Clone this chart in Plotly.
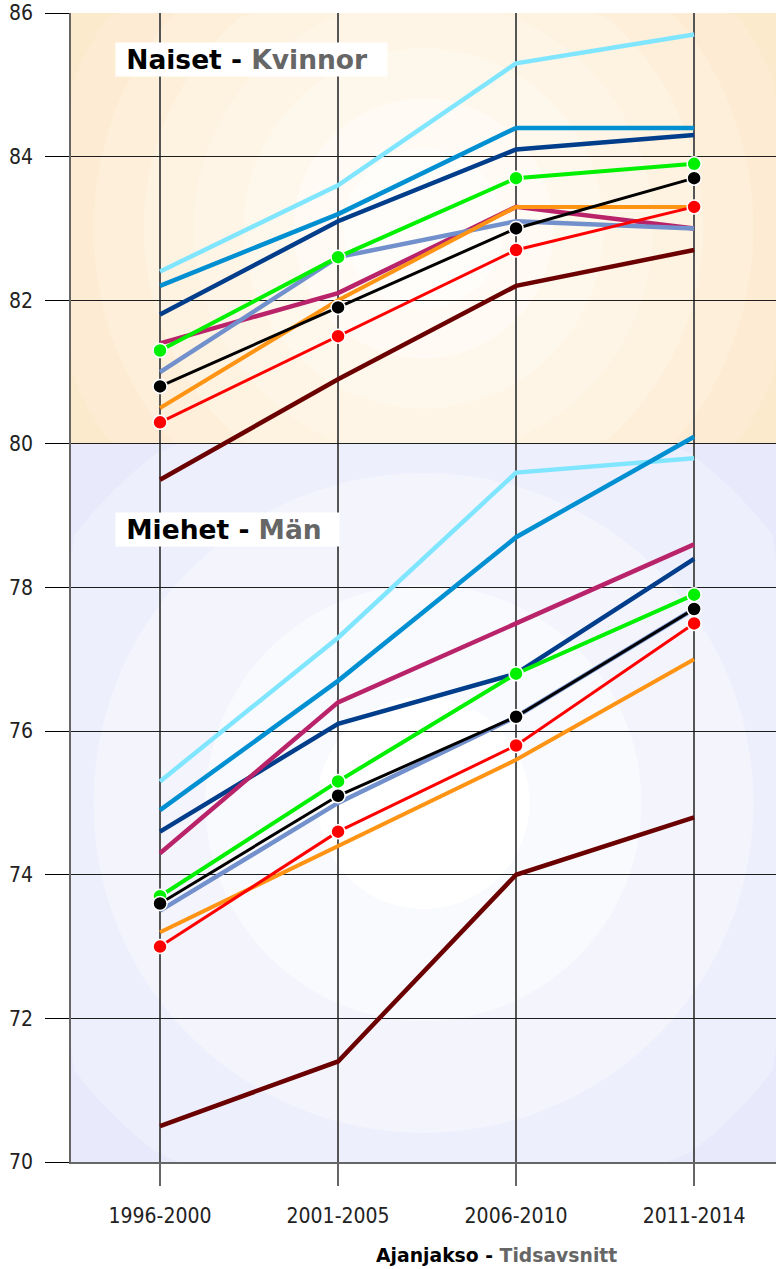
"""Life expectancy by period, women (top) and men (bottom)."""

import math

import plotly.graph_objects as go

PERIODS = ["1996-2000", "2001-2005", "2006-2010", "2011-2014"]
Y_TICKS = [70, 72, 74, 76, 78, 80, 82, 84, 86]

# women (Naiset - Kvinnor)
W_CYAN = [82.4, 83.6, 85.3, 85.7]
W_BLUE = [82.2, 83.2, 84.4, 84.4]
W_NAVY = [81.8, 83.1, 84.1, 84.3]
W_MAGENTA = [81.4, 82.1, 83.3, 83.0]
W_STEEL = [81.0, 82.6, 83.1, 83.0]
W_ORANGE = [80.5, 82.0, 83.3, 83.3]
W_MAROON = [79.5, 80.9, 82.2, 82.7]
W_GREEN = [81.3, 82.6, 83.7, 83.9]
W_BLACK = [80.8, 81.9, 83.0, 83.7]
W_RED = [80.3, 81.5, 82.7, 83.3]

# men (Miehet - Män)
M_CYAN = [75.3, 77.3, 79.6, 79.8]
M_BLUE = [74.9, 76.7, 78.7, 80.1]
M_NAVY = [74.6, 76.1, 76.8, 78.4]
M_MAGENTA = [74.3, 76.4, 77.5, 78.6]
M_STEEL = [73.5, 75.0, 76.2, 77.7]
M_ORANGE = [73.2, 74.4, 75.6, 77.0]
M_MAROON = [70.5, 71.4, 74.0, 74.8]
M_GREEN = [73.7, 75.3, 76.8, 77.9]
M_BLACK = [73.6, 75.1, 76.2, 77.7]
M_RED = [73.0, 74.6, 75.8, 77.5]

TICK_FONT = "DejaVu Sans Condensed, DejaVu Sans, sans-serif"
LABEL_FONT = "DejaVu Sans, Verdana, sans-serif"

FIG_W, FIG_H = 776, 1269

# plot area in page pixels
PX_L, PX_R, PX_T, PX_B = 71, 776, 13, 1162

SERIES = [
    # name, women, men, color, width, markers
    ("Sarja 1", W_CYAN, M_CYAN, "#80E6FF", 4.5, False),
    ("Sarja 2", W_BLUE, M_BLUE, "#0090D2", 4.5, False),
    ("Sarja 3", W_NAVY, M_NAVY, "#003D8A", 4.5, False),
    ("Sarja 4", W_MAGENTA, M_MAGENTA, "#B8236A", 4.5, False),
    ("Sarja 5", W_STEEL, M_STEEL, "#7290CC", 4.5, False),
    ("Sarja 6", W_ORANGE, M_ORANGE, "#FF9414", 4, False),
    ("Sarja 7", W_MAROON, M_MAROON, "#6B0000", 4.5, False),
    ("Sarja 8", W_GREEN, M_GREEN, "#00F000", 4, True),
    ("Sarja 9", W_BLACK, M_BLACK, "#000000", 3, True),
    ("Sarja 10", W_RED, M_RED, "#FF0000", 3, True),
]


def _to_paper(px, py):
    return (px - PX_L) / (PX_R - PX_L), (PX_B - py) / (PX_B - PX_T)


def _ring_path(cx, cy, r, y0, y1, n=96):
    pts = []
    for k in range(n):
        a = 2 * math.pi * k / n
        px = min(max(cx + r * math.cos(a), PX_L), PX_R)
        py = min(max(cy + r * math.sin(a), y0), y1)
        pts.append(_to_paper(px, py))
    return "M" + "L".join(f"{x:.4f},{y:.4f}" for x, y in pts) + "Z"


def _mix(c1, c2, t):
    a = [int(c1[i:i + 2], 16) for i in (1, 3, 5)]
    b = [int(c2[i:i + 2], 16) for i in (1, 3, 5)]
    return "rgb({}, {}, {})".format(*[round(a[i] + (b[i] - a[i]) * t) for i in range(3)])


def _band_shapes(y0, y1, edge, center, radii):
    cx = (PX_L + PX_R) / 2
    cy = (y0 + y1) / 2
    shapes = [{
        "type": "path", "xref": "paper", "yref": "paper", "layer": "below",
        "path": _ring_path(cx, cy, 2000, y0, y1, n=8),
        "fillcolor": edge, "line": {"width": 0},
    }]
    for i, r in enumerate(radii):
        t = (i + 1) / len(radii)
        shapes.append({
            "type": "path", "xref": "paper", "yref": "paper", "layer": "below",
            "path": _ring_path(cx, cy, r, y0, y1),
            "fillcolor": _mix(edge, center, t), "line": {"width": 0},
        })
    return shapes


y80 = PX_T + (86 - 80) * (PX_B - PX_T) / 16
shapes = _band_shapes(PX_T, y80, "#FCE7C6", "#FFFDF9",
                      [430, 380, 330, 280, 230, 180, 130, 80])
shapes += _band_shapes(y80, PX_B, "#E8EAFB", "#FFFFFF", [440, 330, 218, 106])

fig = go.Figure()
x_idx = list(range(len(PERIODS)))

for name, women, men, color, width, markers in SERIES:
    for part, values in (("Naiset", women), ("Miehet", men)):
        fig.add_trace(go.Scatter(
            x=x_idx,
            y=values,
            mode="lines+markers" if markers else "lines",
            name=f"{name} ({part})",
            line={"color": color, "width": width},
            marker={"size": 14, "color": color, "line": {"color": "#FFFFFF", "width": 1.5}},
            customdata=PERIODS,
            hovertemplate="%{customdata}: %{y}<extra>" + f"{name} ({part})" + "</extra>",
            showlegend=False,
        ))

annotations = [
    {
        "text": "<b>&nbsp;Naiset - <span style='color:#666666'>Kvinnor</span></b>",
        "xref": "paper", "yref": "paper",
        "x": _to_paper(115, 0)[0], "y": _to_paper(0, 42)[1],
        "xanchor": "left", "yanchor": "top",
        "showarrow": False, "align": "left",
        "width": 269, "height": 31, "borderpad": 1,
        "bgcolor": "#FFFFFF",
        "font": {"family": LABEL_FONT, "size": 26.5, "color": "#000000"},
    },
    {
        "text": "<b>&nbsp;Miehet - <span style='color:#666666'>Män</span></b>",
        "xref": "paper", "yref": "paper",
        "x": _to_paper(115, 0)[0], "y": _to_paper(0, 512)[1],
        "xanchor": "left", "yanchor": "top",
        "showarrow": False, "align": "left",
        "width": 221, "height": 31, "borderpad": 1,
        "bgcolor": "#FFFFFF",
        "font": {"family": LABEL_FONT, "size": 26.5, "color": "#000000"},
    },
    {
        "text": "<b>Ajanjakso - <span style='color:#666666'>Tidsavsnitt</span></b>",
        "xref": "paper", "yref": "paper",
        "x": _to_paper(496, 0)[0], "y": _to_paper(0, 1255)[1],
        "xanchor": "center", "yanchor": "middle",
        "showarrow": False,
        "font": {"family": LABEL_FONT, "size": 18.8, "color": "#000000"},
    },
]

fig.update_layout(
    width=FIG_W,
    height=FIG_H,
    margin={
        "l": PX_L,
        "r": FIG_W - PX_R,
        "t": PX_T,
        "b": FIG_H - PX_B,
        "pad": 0,
    },
    paper_bgcolor="#FFFFFF",
    plot_bgcolor="#FFFFFF",
    font={"family": TICK_FONT, "color": "#222222"},
    shapes=shapes,
    annotations=annotations,
    showlegend=False,
)

fig.update_xaxes(
    range=[-0.5, 3.46],
    tickvals=x_idx,
    ticktext=PERIODS,
    tickfont={"size": 21, "color": "#222222"},
    ticks="outside",
    ticklen=22,
    tickcolor="#666666",
    tickwidth=1.5,
    ticklabelstandoff=12,
    showgrid=True,
    gridcolor="#555555",
    gridwidth=1.5,
    showline=True,
    linecolor="#666666",
    linewidth=1.5,
    zeroline=False,
    fixedrange=True,
)

fig.update_yaxes(
    range=[70, 86],
    tickvals=Y_TICKS,
    ticktext=[str(v) for v in Y_TICKS],
    tickfont={"size": 21, "color": "#222222"},
    ticks="outside",
    ticklen=24,
    tickcolor="#000000",
    tickwidth=1.2,
    ticklabelstandoff=8,
    showgrid=True,
    gridcolor="#1E1E1E",
    gridwidth=1.2,
    showline=True,
    linecolor="#666666",
    linewidth=1.5,
    zeroline=False,
    fixedrange=True,
)

# the page is exactly the figure: drop the browser's default body margin
fig.write_html(
    "out.html",
    config={"displayModeBar": False},
    post_script="document.body.style.margin='0';document.body.style.overflow='hidden';",
)
